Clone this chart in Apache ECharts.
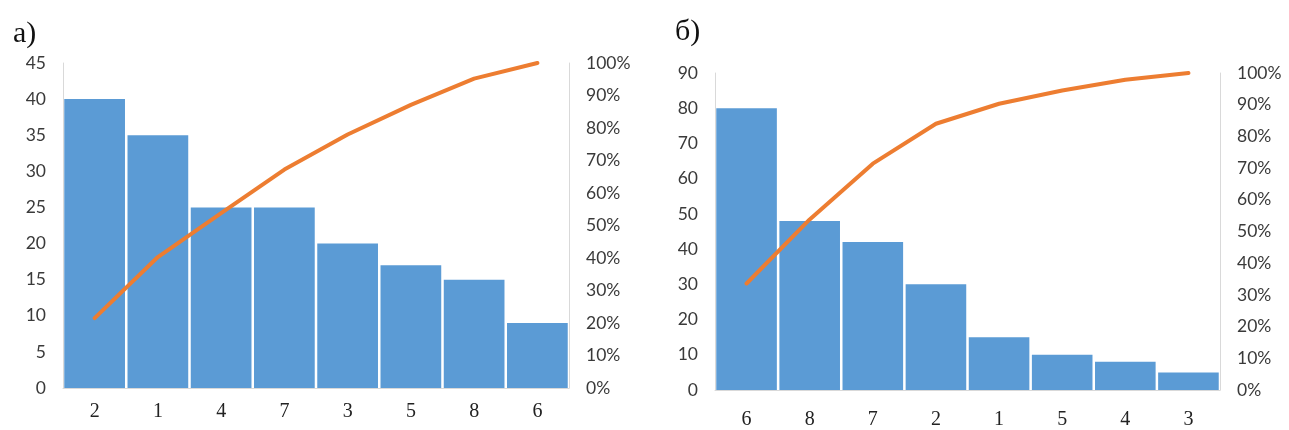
<!DOCTYPE html>
<html>
<head>
<meta charset="utf-8">
<script src="https://cdn.jsdelivr.net/npm/echarts@6/dist/echarts.min.js"></script>
<style>
  html, body { margin: 0; padding: 0; background: #fff; }
  #main { width: 1289px; height: 430px; }
</style>
</head>
<body>
<div id="main"></div>
<script>
// chart а)
var catsA = ['2', '1', '4', '7', '3', '5', '8', '6'];
var countsA = [40, 35, 25, 25, 20, 17, 15, 9];
var cumPctA = [21.5, 40.3, 53.8, 67.2, 78.0, 87.1, 95.2, 100];
var leftTicksA = { max: 45, step: 5 };

// chart б)
var catsB = ['6', '8', '7', '2', '1', '5', '4', '3'];
var countsB = [80, 48, 42, 30, 15, 10, 8, 5];
var cumPctB = [33.6, 53.8, 71.4, 84.0, 90.3, 94.5, 97.9, 100];
var leftTicksB = { max: 90, step: 10 };

var pctTicks = { max: 100, step: 10 };

var BAR = '#5b9bd5';
var LINE = '#ed7d31';
var AXIS = '#d9d9d9';
var TXT = '#3a3a3a';

function valueAxis(gridIndex, ticks, isPct) {
  return {
    type: 'value',
    gridIndex: gridIndex,
    position: isPct ? 'right' : 'left',
    min: 0,
    max: ticks.max,
    interval: ticks.step,
    splitLine: { show: false },
    axisTick: { show: false },
    axisLine: { show: true, lineStyle: { color: AXIS, width: 1 } },
    axisLabel: {
      color: TXT,
      fontFamily: 'Lato',
      fontSize: 17.5,
      margin: 17,
      align: isPct ? 'left' : 'right',
      formatter: isPct ? '{value}%' : '{value}'
    }
  };
}

function catAxis(gridIndex, cats, margin) {
  return {
    type: 'category',
    gridIndex: gridIndex,
    data: cats,
    axisTick: { show: false },
    axisLine: { show: true, lineStyle: { color: AXIS, width: 1 } },
    axisLabel: {
      color: '#222',
      fontFamily: 'Liberation Serif',
      fontSize: 20,
      margin: margin
    }
  };
}

function barSeries(idx, data) {
  return {
    type: 'bar',
    xAxisIndex: idx,
    yAxisIndex: idx * 2,
    data: data,
    barCategoryGap: '4%',
    itemStyle: { color: BAR },
    silent: true
  };
}

function lineSeries(idx, data) {
  return {
    type: 'line',
    xAxisIndex: idx,
    yAxisIndex: idx * 2 + 1,
    data: data,
    symbol: 'none',
    lineStyle: { color: LINE, width: 4, cap: 'round', join: 'round' },
    silent: true
  };
}

var chart = echarts.init(document.getElementById('main'));
chart.setOption({
  animation: false,
  backgroundColor: '#fff',
  title: [
    { text: 'а)', left: 8, top: 14,
      textStyle: { fontFamily: 'Liberation Serif', fontSize: 30, fontWeight: 'normal', color: '#111' } },
    { text: 'б)', left: 670, top: 12,
      textStyle: { fontFamily: 'Liberation Serif', fontSize: 30, fontWeight: 'normal', color: '#111' } }
  ],
  grid: [
    { left: 63, top: 63, width: 506, height: 325 },
    { left: 715, top: 73, width: 505, height: 318 }
  ],
  xAxis: [catAxis(0, catsA, 14), catAxis(1, catsB, 20)],
  yAxis: [
    valueAxis(0, leftTicksA, false),
    valueAxis(0, pctTicks, true),
    valueAxis(1, leftTicksB, false),
    valueAxis(1, pctTicks, true)
  ],
  series: [
    barSeries(0, countsA),
    lineSeries(0, cumPctA),
    barSeries(1, countsB),
    lineSeries(1, cumPctB)
  ]
});
</script>
</body>
</html>
